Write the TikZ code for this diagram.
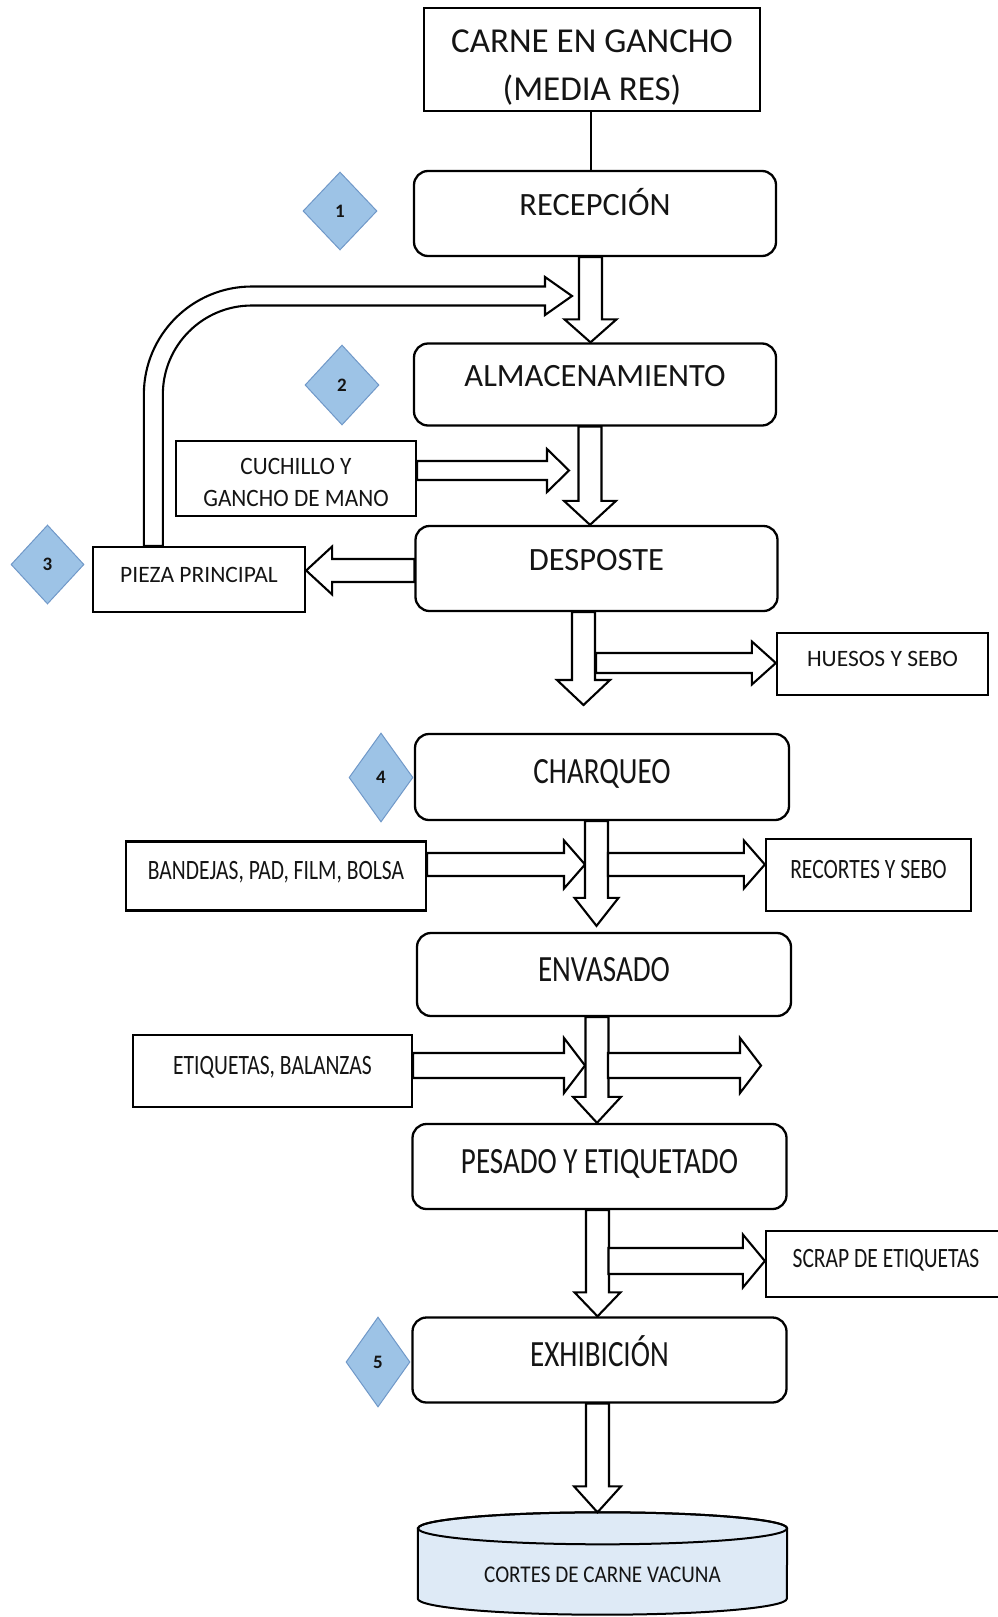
\documentclass[tikz,border=0pt]{standalone}
\usepackage{fontspec}
\setmainfont{Carlito}
\newfontfamily\condA[FakeStretch=0.785]{Carlito}
\newfontfamily\condB[FakeStretch=0.77]{Carlito}
\newfontfamily\condC[FakeStretch=0.93]{Carlito}
\newfontfamily\condD[FakeStretch=0.88]{Carlito}
\usetikzlibrary{shapes.geometric,calc}
\definecolor{diafill}{RGB}{157,195,230}
\definecolor{diadraw}{RGB}{112,152,200}
\definecolor{cylfill}{RGB}{222,234,246}
\definecolor{ink}{RGB}{20,20,20}

% down block arrow: from, tip, dx, head length, head half width
\newcommand\dblk[5]{%
 \draw[blk] let \p1=($(#1)+(#3,0)$), \p2=(#2) in
 (\x1-11.5pt,\y1) -- (\x1-11.5pt,\y2+#4) -- (\x1-#5,\y2+#4) -- (\x1,\y2)
 -- (\x1+#5,\y2+#4) -- (\x1+11.5pt,\y2+#4) -- (\x1+11.5pt,\y1) -- cycle;}
% right block arrow: start, tip, shaft half width, head half width, head length
\newcommand\hblk[5]{%
 \draw[blk] let \p1=(#1), \p2=(#2) in
 (\x1,\y1+#3) -- (\x2-#5,\y1+#3) -- (\x2-#5,\y1+#4) -- (\x2,\y1)
 -- (\x2-#5,\y1-#4) -- (\x2-#5,\y1-#3) -- (\x1,\y1-#3) -- cycle;}
% left block arrow
\newcommand\lblk[5]{%
 \draw[blk] let \p1=(#1), \p2=(#2) in
 (\x1,\y1+#3) -- (\x2+#5,\y1+#3) -- (\x2+#5,\y1+#4) -- (\x2,\y1)
 -- (\x2+#5,\y1-#4) -- (\x2+#5,\y1-#3) -- (\x1,\y1-#3) -- cycle;}

\tikzset{
 plain/.style={draw, line width=2.3pt, rectangle, inner sep=0pt, align=center, text=ink},
 proc/.style={plain, rounded corners=14pt},
 upper/.style={proc, minimum width=362pt, font=\fontsize{32.5pt}{38pt}\selectfont, text height=23pt, text depth=20pt},
 lower/.style={proc, minimum width=374pt, font=\condA\fontsize{37pt}{44pt}\selectfont, text height=26pt, text depth=13pt},
 sidebox/.style={plain, font=\fontsize{23.5pt}{28pt}\selectfont, text height=15pt, text depth=10pt},
 sidecond/.style={plain, font=\condB\fontsize{28pt}{32pt}\selectfont, text height=18pt, text depth=12pt},
 dia/.style={diamond, draw=diadraw, fill=diafill, line width=1pt, inner sep=0pt, text=ink,
   font=\bfseries\fontsize{19pt}{19pt}\selectfont},
 blk/.style={draw, fill=white, line width=2.1pt, line join=miter}
}

\begin{document}
\begin{tikzpicture}[x=1pt,y=-1pt]
\useasboundingbox (0,0) rectangle (997,1617);

% main nodes
\node[plain, minimum width=336pt, minimum height=101pt, font=\fontsize{35pt}{48pt}\selectfont,
  text height=92pt, text depth=11pt] (top) at (592,59.5) {CARNE EN GANCHO\\(MEDIA RES)};
\node[upper, minimum height=85pt] (rec) at (595,213.5) {RECEPCIÓN};
\node[upper, minimum height=82pt] (alm) at (595,384.5) {ALMACENAMIENTO};
\node[upper, minimum height=85pt] (des) at (596.5,568.5) {DESPOSTE};
\node[lower, minimum height=86pt] (cha) at (602,777) {CHARQUEO};
\node[lower, minimum height=83pt] (env) at (604,974.5) {ENVASADO};
\node[lower, minimum height=85pt] (pes) at (599.5,1166.5) {PESADO Y ETIQUETADO};
\node[lower, minimum height=85pt] (exh) at (599.5,1360) {EXHIBICIÓN};

% side nodes
\node[plain, minimum width=240pt, minimum height=75pt, font=\condC\fontsize{25pt}{32pt}\selectfont,
  text height=60pt, text depth=5pt] (cuch) at (296,478.5) {CUCHILLO Y\\GANCHO DE MANO};
\node[sidebox, minimum width=212pt, minimum height=65pt] (pie) at (199,579.5) {PIEZA PRINCIPAL};
\node[sidebox, minimum width=211pt, minimum height=62pt, font=\fontsize{23.5pt}{28pt}\selectfont] (hue) at (882.5,664) {HUESOS Y SEBO};
\node[sidecond, minimum width=300pt, minimum height=69pt] (ban) at (276,876) {BANDEJAS, PAD, FILM, BOLSA};
\node[sidecond, minimum width=205pt, minimum height=72pt] (rcs) at (868.5,875) {RECORTES Y SEBO};
\node[sidecond, minimum width=279pt, minimum height=72pt] (eti) at (272.5,1071) {ETIQUETAS, BALANZAS};
\node[sidecond, minimum width=240pt, minimum height=66pt] (scr) at (886,1264) {SCRAP DE ETIQUETAS};

% diamonds
\node[dia, minimum width=74pt, minimum height=78pt] (d1) at (340,211) {1};
\node[dia, minimum width=74pt, minimum height=80pt] (d2) at (342,385) {2};
\node[dia, minimum width=73pt, minimum height=79pt] (d3) at (47.5,564.5) {3};
\node[dia, minimum width=64pt, minimum height=89pt] (d4) at (381,777.5) {4};
\node[dia, minimum width=64pt, minimum height=90pt] (d5) at (378,1362) {5};

% store (cylinder)
\node[minimum width=369pt, minimum height=102pt, inner sep=0pt] (cyl) at (602.5,1563.5) {};
\draw[line width=2pt, fill=cylfill]
  ($(cyl.north west)+(0,16)$) -- ($(cyl.south west)+(0,-16)$)
  arc[start angle=180, end angle=360, x radius=184.5pt, y radius=16pt]
  -- ($(cyl.north east)+(0,16)$)
  arc[start angle=0, end angle=180, x radius=184.5pt, y radius=16pt] -- cycle;
\draw[line width=2pt] ($(cyl.north)+(0,16)$) ellipse[x radius=184.5pt, y radius=16pt];
\node[font=\condD\fontsize{24pt}{24pt}\selectfont, text=ink, text height=15pt, text depth=0pt]
  (cyltxt) at (602.5,1574.5) {CORTES DE CARNE VACUNA};

% free ends
\coordinate (a3end) at (583.5,705);
\coordinate (r1tip) at (569,470.5);
\coordinate (r3s) at (596,663);
\coordinate (r4tip) at (585,864.5);
\coordinate (r5s) at (608,864.5);
\coordinate (r6tip) at (585,1065.5);
\coordinate (r7s) at (608,1065.5);
\coordinate (r7tip) at (761,1065.5);
\coordinate (r8s) at (608.5,1261);
\coordinate (rtip) at (572,296);

% plain connector
\draw[line width=2pt] ([xshift=-1pt]top.south) -- ([xshift=-4pt]rec.north);

% return arrow from PIEZA PRINCIPAL
\draw[blk] let \p1=($(pie.north west)+(52,0)$), \p2=(rtip) in
  (\x1,\y1) -- (\x1,\y2+9.5pt-108pt)
  arc[start angle=180, end angle=90, radius=108pt]
  -- (\x2-27pt,\y2+9.5pt) -- (\x2-27pt,\y2+19pt) -- (\x2,\y2)
  -- (\x2-27pt,\y2-19pt) -- (\x2-27pt,\y2-9.5pt)
  -- (\x1+108pt,\y2-9.5pt)
  arc[start angle=90, end angle=180, radius=89pt]
  -- (\x1+19pt,\y1) -- cycle;

% incoming horizontal arrows
\hblk{[yshift=8pt]cuch.east}{r1tip}{9.5pt}{21.5pt}{22pt}
\hblk{[yshift=11.5pt]ban.east}{r4tip}{11.5pt}{24pt}{21pt}
\hblk{[yshift=5.5pt]eti.east}{r6tip}{12.5pt}{27.5pt}{21pt}

% vertical block arrows
\dblk{rec.south}{alm.north}{-4.5}{23pt}{26pt}
\dblk{alm.south}{des.north}{-5}{24pt}{26pt}
\dblk{des.south}{a3end}{-13}{25pt}{26.5pt}
\dblk{cha.south}{[yshift=6pt]env.north}{-5.5}{28pt}{22pt}
\dblk{env.south}{pes.north}{-7}{26pt}{24pt}
\dblk{pes.south}{exh.north}{-2}{24pt}{23pt}
\dblk{exh.south}{cyl.north}{-2}{26pt}{23.5pt}

% outgoing horizontal arrows
\lblk{[yshift=-2pt]des.west}{pie.east}{11.5pt}{24pt}{26pt}
\hblk{r3s}{hue.west}{10pt}{21.5pt}{24pt}
\hblk{r5s}{rcs.west}{11.5pt}{24pt}{21pt}
\hblk{r7s}{r7tip}{12.5pt}{27.5pt}{21pt}
\hblk{r8s}{scr.west}{13pt}{26.5pt}{22pt}
\end{tikzpicture}
\end{document}
